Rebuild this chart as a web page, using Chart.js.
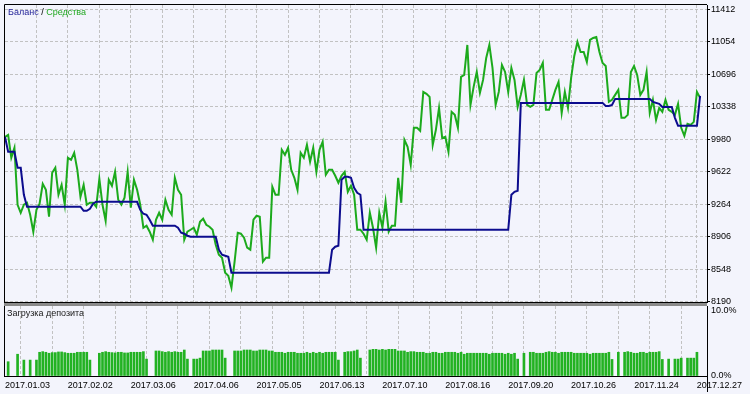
<!DOCTYPE html>
<html>
<head>
<meta charset="utf-8">
<script src="https://cdn.jsdelivr.net/npm/chart.js@4"></script>
<style>
  html, body { margin: 0; padding: 0; background: #F3F4FC; }
  #wrap { position: relative; width: 750px; height: 394px; overflow: hidden; }
  canvas { position: absolute; left: 0; }
  #top { top: 0; }
  #bottom { top: 306px; }
</style>
</head>
<body>
<div id="wrap">
  <canvas id="top" width="750" height="306"></canvas>
  <canvas id="bottom" width="750" height="88"></canvas>
</div>
<script>
// equity, one value per bar index
const equity = [
  10006, 10028, 9775, 9885, 9258, 9170, 9258, 9280, 9148, 8961,      // 0
  9203, 9269, 9489, 9423, 9126, 9610, 9665, 9368, 9478, 9258,        // 10
  9775, 9753, 9830, 9643, 9346, 9478, 9258, 9280, 9280, 9236,        // 20
  9544, 9258, 9082, 9533, 9467, 9621, 9313, 9258, 9335, 9621,        // 30
  9225, 9533, 9423, 9258, 9005, 9027, 8961, 8873, 9093, 9170,        // 40
  9093, 9313, 9203, 9148, 9555, 9423, 9368, 8873, 8961, 8983,        // 50
  9005, 8928, 9071, 9104, 9038, 9016, 8983, 8818, 8708, 8675,        // 60
  8510, 8477, 8345, 8631, 8950, 8939, 8895, 8785, 8763, 9093,        // 70
  9137, 9126, 8631, 8675, 8675, 9456, 9368, 9368, 9863, 9808,        // 80
  9885, 9643, 9555, 9423, 9830, 9775, 9918, 9731, 9885, 9621,        // 90
  9863, 9951, 9588, 9643, 9643, 9577, 9500, 9577, 9621, 9401,        // 100
  9467, 9368, 8983, 8983, 8939, 8873, 9170, 9005, 8785, 9170,        // 110
  9005, 9291, 8961, 9027, 9027, 9555, 9280, 9973, 9896, 9698,        // 120
  10105, 10105, 10072, 10501, 10479, 10446, 9918, 10083, 10325, 9995, // 130
  10006, 9841, 10281, 10248, 10105, 10666, 10688, 11018, 10358, 10556, // 140
  10721, 10490, 10633, 10875, 11018, 10765, 10358, 10501, 10798, 10721, // 150
  10501, 10765, 10633, 10336, 10468, 10633, 10358, 10336, 10358, 10710, // 160
  10743, 10820, 10303, 10303, 10413, 10523, 10611, 10270, 10501, 10325, // 170
  10655, 10897, 11051, 10941, 10941, 10831, 11073, 11095, 11106, 10941, // 180
  10820, 10787, 10391, 10413, 10468, 10523, 10215, 10215, 10248, 10721, // 190
  10787, 10688, 10468, 10523, 10721, 10270, 10413, 10193, 10325, 10281, // 200
  10413, 10303, 10281, 10248, 10369, 10105, 10017, 10149, 10138, 10171, // 210
  10501, 10435                                                          // 220
];

// balance only changes at deals: bar index and value at each vertex
const balanceAt = [0, 1, 3, 4, 5, 6, 7, 24, 25, 26, 27, 28, 29, 42, 43, 44, 45, 46, 47, 54,
  55, 56, 57, 58, 59, 67, 68, 69, 70, 71, 72, 103, 104, 105, 106, 107, 108, 109, 110, 111,
  112, 113, 114, 160, 161, 162, 163, 164, 190, 191, 192, 193, 194, 205, 206, 208, 209, 212, 213, 214,
  220, 221];
const balanceVal = [10006, 9841, 9841, 9665, 9665, 9368, 9236, 9236, 9192, 9192, 9214, 9269, 9291, 9291, 9203, 9159, 9148, 9093, 9027, 9027,
  9005, 8950, 8939, 8917, 8906, 8906, 8763, 8708, 8697, 8686, 8510, 8510, 8763, 8796, 8807, 9533, 9566, 9566, 9555, 9445,
  9390, 9368, 8983, 8983, 9368, 9401, 9412, 10380, 10380, 10347, 10347, 10358, 10424, 10424, 10391, 10369, 10336, 10336, 10215, 10127,
  10127, 10457];

// deposit load, % (null = no bar)
const depositLoad = [
  null, 2.2, null, null, 3.35, null, 2.45, null, 2.45, null,          // 0
  2.45, 3.65, 3.75, 3.65, 3.5, 3.6, 3.6, 3.7, 3.7, 3.6,               // 10
  3.5, 3.5, 3.5, 3.65, 3.65, 3.65, 3.65, 2.45, null, null,            // 20
  3.5, 3.65, 3.75, 3.65, 3.6, 3.55, 3.65, 3.65, 3.55, 3.55,           // 30
  3.65, 3.65, 3.65, 3.65, 3.75, 2.6, null, null, 3.85, 3.85,          // 40
  3.75, 3.65, 3.75, 3.65, 3.75, 3.65, 3.65, 4.0, 2.6, null,           // 50
  2.6, 2.6, 2.75, 3.85, 3.85, 3.85, 4.0, 4.0, 4.0, 4.0,               // 60
  2.75, null, null, 3.85, 3.85, 3.85, 4.0, 4.0, 4.0, 3.85,            // 70
  3.85, 4.0, 4.0, 4.0, 3.85, 3.85, 3.65, 3.65, 3.65, 3.5,             // 80
  3.65, 3.65, 3.65, 3.5, 3.5, 3.5, 3.65, 3.5, 3.65, 3.5,              // 90
  3.65, 3.5, 3.65, 3.65, 3.65, 3.65, 2.45, null, 3.65, 3.75,          // 100
  3.75, 3.85, 4.0, 2.75, null, null, 4.0, 4.1, 4.1, 4.0,              // 110
  4.1, 4.0, 4.1, 4.1, 4.1, 3.85, 3.85, 3.85, 3.65, 3.75,              // 120
  3.75, 3.65, 3.65, 3.65, 3.5, 3.5, 3.65, 3.65, 3.5, 3.5,             // 130
  3.65, 3.65, 3.65, 3.65, 3.5, 3.65, 3.35, 3.5, 3.5, 3.5,             // 140
  3.5, 3.5, 3.5, 3.5, 3.35, 3.5, 3.5, 3.5, 3.5, 3.35,                 // 150
  3.5, 3.35, 3.5, 2.6, null, 3.5, null, 3.65, 3.65, 3.5,              // 160
  3.5, 3.5, 3.65, 3.75, 3.65, 3.65, 3.5, 3.65, 3.65, 3.65,            // 170
  3.65, 3.5, 3.5, 3.5, 3.5, 3.5, 3.35, 3.5, 3.5, 3.5,                 // 180
  3.5, 3.5, 3.65, 2.55, null, 3.65, null, 3.65, 3.75, 3.65,           // 190
  3.5, 3.5, 3.65, 3.65, 3.5, 3.65, 3.65, 3.65, 3.75, 2.55,            // 200
  null, 2.6, null, 2.6, 2.6, 2.75, null, 2.75, 2.75, 2.75,            // 210
  3.65, null                                                          // 220
];

const balanceTicks = [8190, 8548, 8906, 9264, 9622, 9980, 10338, 10696, 11054, 11412];
const loadTicks = [0, 10];
const gridAt = [10, 20, 30, 40, 50, 60, 70, 80, 90, 100, 110, 120, 130, 140, 150, 160, 170, 180, 190, 200, 210, 220];
const dateAt = [10, 30, 50, 70, 90, 110, 130, 150, 170, 190, 210, 230];
const dateLabels = ['2017.01.03', '2017.02.02', '2017.03.06', '2017.04.06', '2017.05.05', '2017.06.13',
  '2017.07.10', '2017.08.16', '2017.09.20', '2017.10.26', '2017.11.24', '2017.12.27'];

const FONT = "'Liberation Sans', Arial, sans-serif";
const GRID = '#C2C2C2';
const DASH = [3, 2];
const X_MAX = 223.2;

const topFrame = {
  id: 'topFrame',
  afterDraw(chart) {
    const { ctx, chartArea: a } = chart;
    ctx.save();
    ctx.strokeStyle = '#000';
    ctx.lineWidth = 1;
    ctx.beginPath();
    ctx.moveTo(a.left - 0.5, a.bottom + 1);
    ctx.lineTo(a.left - 0.5, a.top - 0.5);
    ctx.lineTo(a.right, a.top - 0.5);
    ctx.moveTo(a.left - 1, a.bottom + 0.5);
    ctx.lineTo(a.right, a.bottom + 0.5);
    ctx.stroke();
    ctx.fillStyle = '#8A8A8A';
    ctx.fillRect(a.left - 1, a.bottom + 1, a.right - a.left + 1, 3);

    ctx.font = '9px ' + FONT;
    ctx.textBaseline = 'middle';
    let x = a.left + 3;
    const parts = [['Баланс', '#1E1E96'], [' / ', '#000'], ['Средства', '#22A822']];
    for (const [t, c] of parts) {
      ctx.fillStyle = c;
      ctx.fillText(t, x, 13);
      x += ctx.measureText(t).width;
    }
    ctx.restore();
  }
};

const bottomFrame = {
  id: 'bottomFrame',
  afterDraw(chart) {
    const { ctx, chartArea: a, scales } = chart;
    ctx.save();
    ctx.strokeStyle = '#000';
    ctx.lineWidth = 1;
    ctx.beginPath();
    ctx.moveTo(a.left - 0.5, 0);
    ctx.lineTo(a.left - 0.5, a.bottom + 1);
    ctx.moveTo(a.right + 0.5, a.bottom);
    ctx.lineTo(a.right + 0.5, a.bottom + 16);
    ctx.stroke();

    ctx.font = '9px ' + FONT;
    ctx.textBaseline = 'middle';
    ctx.fillStyle = '#202020';
    ctx.fillText('Загрузка депозита', a.left + 2, 7.5);

    // last date label sits past the plot's right edge
    const last = dateAt.length - 1;
    ctx.fillStyle = '#000';
    ctx.textAlign = 'center';
    ctx.fillText(dateLabels[last], scales.x.getPixelForValue(dateAt[last]) - 9, a.bottom + 9.4);
    ctx.restore();
  }
};

new Chart(document.getElementById('top'), {
  type: 'line',
  data: {
    datasets: [
      {
        label: 'Баланс',
        data: balanceAt.map((x, i) => ({ x, y: balanceVal[i] })),
        borderColor: '#0C0C8E',
        borderWidth: 2,
        pointRadius: 0,
        tension: 0
      },
      {
        label: 'Средства',
        data: equity.map((y, x) => ({ x, y })),
        borderColor: '#1CAA1C',
        borderWidth: 2,
        pointRadius: 0,
        tension: 0
      }
    ]
  },
  options: {
    responsive: false,
    devicePixelRatio: 1,
    animation: false,
    layout: { padding: { left: 5, top: 5, right: 0, bottom: 4 } },
    plugins: { legend: { display: false }, tooltip: { enabled: false } },
    scales: {
      x: {
        type: 'linear',
        min: 0,
        max: X_MAX,
        afterBuildTicks: s => { s.ticks = gridAt.map(v => ({ value: v })); },
        afterFit: s => { s.height = 0; s.paddingLeft = 0; s.paddingRight = 0; },
        ticks: { display: false },
        grid: { color: GRID, drawTicks: false },
        border: { display: false, dash: DASH }
      },
      y: {
        position: 'right',
        min: 8187,
        max: 11458,
        afterBuildTicks: s => { s.ticks = balanceTicks.map(v => ({ value: v })); },
        afterFit: s => { s.width = 43; s.paddingTop = 0; s.paddingBottom = 0; },
        grid: { color: GRID, tickColor: '#000', tickLength: 3, tickBorderDash: [] },
        border: { display: true, color: '#000', width: 1, dash: DASH },
        ticks: { color: '#000', font: { family: FONT, size: 9 }, padding: 1, callback: v => String(v) }
      }
    }
  },
  plugins: [topFrame]
});

new Chart(document.getElementById('bottom'), {
  type: 'bar',
  data: {
    datasets: [{
      label: 'Загрузка депозита',
      data: depositLoad.map((y, x) => ({ x, y })),
      backgroundColor: '#22B222',
      borderWidth: 0,
      barThickness: 2
    }]
  },
  options: {
    responsive: false,
    devicePixelRatio: 1,
    animation: false,
    layout: { padding: { left: 5, top: 0, right: 0, bottom: 0 } },
    plugins: { legend: { display: false }, tooltip: { enabled: false } },
    scales: {
      x: {
        type: 'linear',
        min: 0,
        max: X_MAX,
        offset: false,
        afterBuildTicks: s => { s.ticks = gridAt.map(v => ({ value: v })); },
        afterFit: s => { s.height = 18; s.paddingLeft = 0; s.paddingRight = 0; },
        grid: { color: GRID, drawTicks: false },
        border: { display: true, color: '#000', width: 1, dash: DASH },
        ticks: {
          autoSkip: false,
          maxRotation: 0,
          labelOffset: -9,
          padding: 4,
          color: '#000',
          font: { family: FONT, size: 9 },
          callback: v => { const k = dateAt.indexOf(v); return k >= 0 ? dateLabels[k] : ''; }
        }
      },
      y: {
        position: 'right',
        min: 0,
        max: 10.77,
        afterBuildTicks: s => { s.ticks = loadTicks.map(v => ({ value: v })); },
        afterFit: s => { s.width = 43; s.paddingTop = 0; s.paddingBottom = 0; },
        grid: { drawOnChartArea: false, drawTicks: false },
        border: { display: true, color: '#000', width: 1 },
        ticks: { color: '#000', font: { family: FONT, size: 9 }, padding: 4, callback: v => v.toFixed(1) + '%' }
      }
    }
  },
  plugins: [bottomFrame]
});
</script>
</body>
</html>
